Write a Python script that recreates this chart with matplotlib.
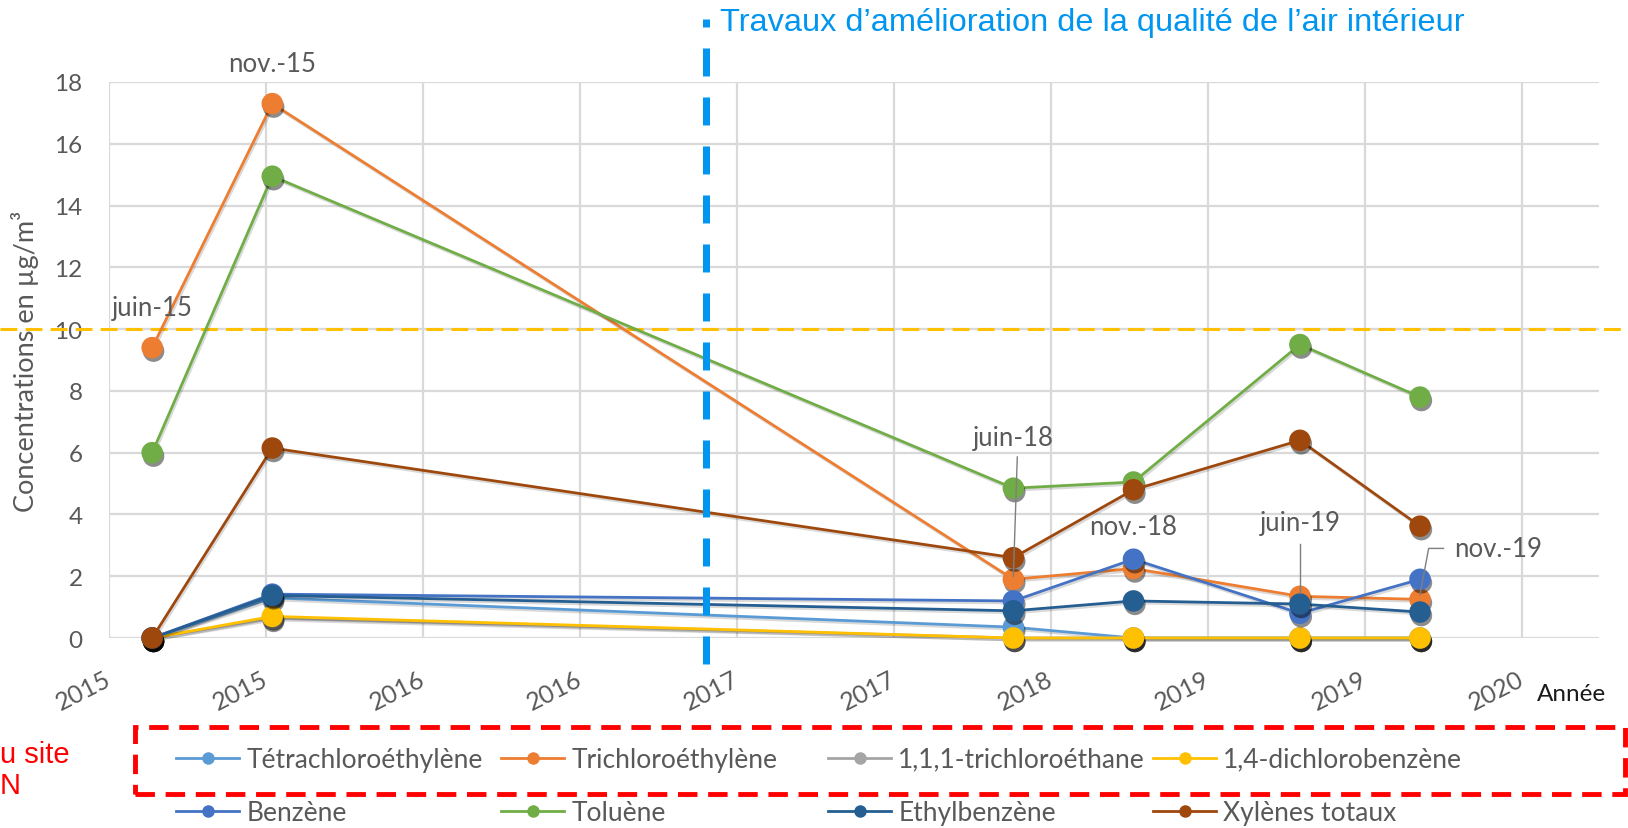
import matplotlib
matplotlib.use('Agg')
import matplotlib.pyplot as plt
import matplotlib.dates as mdates
import matplotlib.patheffects as pe
from matplotlib.lines import Line2D
from matplotlib.patches import Rectangle
from datetime import date, timedelta

# Campagnes de prélèvement
CAMPAGNES = ['juin-15', 'nov.-15', 'juin-18', 'nov.-18', 'juin-19', 'nov.-19']
DATES = [date(2015, 6, 18), date(2015, 11, 18), date(2018, 6, 19),
         date(2018, 11, 19), date(2019, 6, 19), date(2019, 11, 19)]

# Concentrations en µg/m3
TETRACHLORO = [0, 1.30, 0.35, 0, 0, 0]
TRICHLORO = [9.4, 17.3, 1.9, 2.25, 1.35, 1.25]
TRICHLOROETHANE = [0, 0.65, 0, 0, 0, 0]
DICHLOROBENZENE = [0, 0.70, 0, 0, 0, 0]
BENZENE = [0, 1.42, 1.2, 2.55, 0.8, 1.9]
TOLUENE = [6.0, 14.95, 4.85, 5.05, 9.5, 7.8]
ETHYLBENZENE = [0, 1.38, 0.88, 1.2, 1.1, 0.84]
XYLENES = [0, 6.15, 2.6, 4.8, 6.4, 3.62]

NOMS = ['Tétrachloroéthylène', 'Trichloroéthylène', '1,1,1-trichloroéthane',
        '1,4-dichlorobenzène', 'Benzène', 'Toluène', 'Ethylbenzène', 'Xylènes totaux']
SERIES = [TETRACHLORO, TRICHLORO, TRICHLOROETHANE, DICHLOROBENZENE,
          BENZENE, TOLUENE, ETHYLBENZENE, XYLENES]
COULEURS = ['#5B9BD5', '#ED7D31', '#A5A5A5', '#FFC000',
            '#4472C4', '#70AD47', '#255E91', '#9E480E']

TICK_LABELS = ['2015', '2015', '2016', '2016', '2017', '2017', '2018', '2019', '2019', '2020']
SEUIL = 10
DATE_TRAVAUX = date(2017, 5, 24)

GRIS = '#595959'
FONT = ['Lato', 'DejaVu Sans']
ARIAL = ['Liberation Sans', 'DejaVu Sans']
plt.rcParams['font.family'] = FONT

W, H = 1628, 829
fig = plt.figure(figsize=(W / 100, H / 100), dpi=100)
ax = fig.add_axes([109 / W, 1 - 639 / H, 1490 / W, 556 / H])

debut = date(2015, 4, 24)
x = mdates.date2num(DATES)
ticks = [mdates.date2num(debut + timedelta(days=200 * k)) for k in range(len(TICK_LABELS))]
ax.set_xlim(mdates.date2num(debut), mdates.date2num(debut + timedelta(days=1898)))
ax.set_ylim(0, 18)
ax.set_xticks(ticks)
ax.set_xticklabels(TICK_LABELS)
ax.set_yticks(range(0, 19, 2))

ax.grid(True, color='#D9D9D9', lw=1.6, zorder=0)
ax.set_axisbelow(True)
for s in ax.spines.values():
    s.set_visible(False)
ax.tick_params(axis='both', length=0, labelcolor=GRIS)
ax.tick_params(axis='y', pad=19, labelsize=17.5)
ax.tick_params(axis='x', pad=28, labelsize=18)
plt.setp(ax.get_xticklabels(), rotation=27, ha='right', va='center', rotation_mode='anchor')

ax.set_ylabel('Concentrations en µg/m³', fontsize=19.5, color=GRIS)
ax.yaxis.set_label_coords(-0.047, 0.5)

# Séries
for vals, nom, col in zip(SERIES, NOMS, COULEURS):
    ax.plot(x, vals, color=col, lw=2, zorder=3, clip_on=False,
            path_effects=[pe.SimpleLineShadow(offset=(1, -1.5), alpha=0.15), pe.Normal()])
    ax.plot(x, vals, 'o', color=col, ms=15.5, mew=0, zorder=3, clip_on=False,
            path_effects=[pe.SimplePatchShadow(offset=(1, -2.5), shadow_rgbFace='black', alpha=0.45),
                          pe.Normal()])

# Valeur repère 10 µg/m3
ax.axhline(SEUIL, xmin=-109 / 1490, xmax=(W - 109) / 1490, color='#FFC000', lw=2.2,
           ls=(0, (5.5, 2.7)), clip_on=False, zorder=2)

# Travaux
xt = mdates.date2num(DATE_TRAVAUX)
ax.plot([xt, xt], [20.04, -0.95], color='#0096F0', lw=5.04, ls=(2.86, (4, 3)),
        clip_on=False, zorder=4)
fig.text(720 / W, 1 - 23 / H, 'Travaux d’amélioration de la qualité de l’air intérieur',
         fontsize=23.4, color='#0096F0', family=ARIAL, ha='left', va='center')

# Étiquettes des campagnes
lab_kw = dict(fontsize=18.5, color=GRIS, ha='center', va='center', zorder=5)
ax.text(x[0], 10.7, CAMPAGNES[0], **lab_kw)
ax.text(x[1], 18.6, CAMPAGNES[1], clip_on=False, **lab_kw)
ax.text(x[2], 6.5, CAMPAGNES[2], **lab_kw)
ax.text(x[3], 3.62, CAMPAGNES[3], **lab_kw)
ax.text(x[4], 3.75, CAMPAGNES[4], **lab_kw)
ax.text(x[5] + 43, 2.9, CAMPAGNES[5], fontsize=18.5, color=GRIS, ha='left', va='center', zorder=5)

lead = dict(color='#7F7F7F', lw=1, zorder=5)
ax.plot([x[2] + 5, x[2]], [5.86, 2.0], **lead)
ax.plot([x[4], x[4]], [3.05, 1.45], **lead)
ax.plot([x[5] + 30, x[5] + 11, x[5]], [2.9, 2.9, 1.4], **lead)

fig.text(1537 / W, 1 - 695 / H, 'Année', fontsize=17.5, color='#1A1A1A', ha='left', va='center')

# Légende (4 colonnes, 2 lignes)
handles = [Line2D([], [], color=c, lw=2, marker='o', ms=9, mew=0) for c in COULEURS]
cols_x = [176, 501, 828, 1153]
for i, cx in enumerate(cols_x):
    fig.legend([handles[i], handles[i + 4]], [NOMS[i], NOMS[i + 4]],
               loc='center left', bbox_to_anchor=(cx / W, 1 - 787 / H),
               frameon=False, fontsize=19, labelcolor=GRIS, borderpad=0,
               borderaxespad=0, handlelength=2.39, handletextpad=0.27,
               labelspacing=1.08)

# Cadre rouge
fig.patches.append(Rectangle((135 / W, 1 - 795 / H), (1625 - 135) / W, (795 - 728) / H,
                             transform=fig.transFigure, fill=False, edgecolor='#FF0000',
                             lw=3.5, ls=(0, (4, 2.2))))
fig.text(0, 1 - 755 / H, 'u site', fontsize=21, color='#FF0000', family=ARIAL,
         ha='left', va='center')
fig.text(0, 1 - 786 / H, 'N', fontsize=21, color='#FF0000', family=ARIAL,
         ha='left', va='center')

fig.savefig('out.png', dpi=100)
